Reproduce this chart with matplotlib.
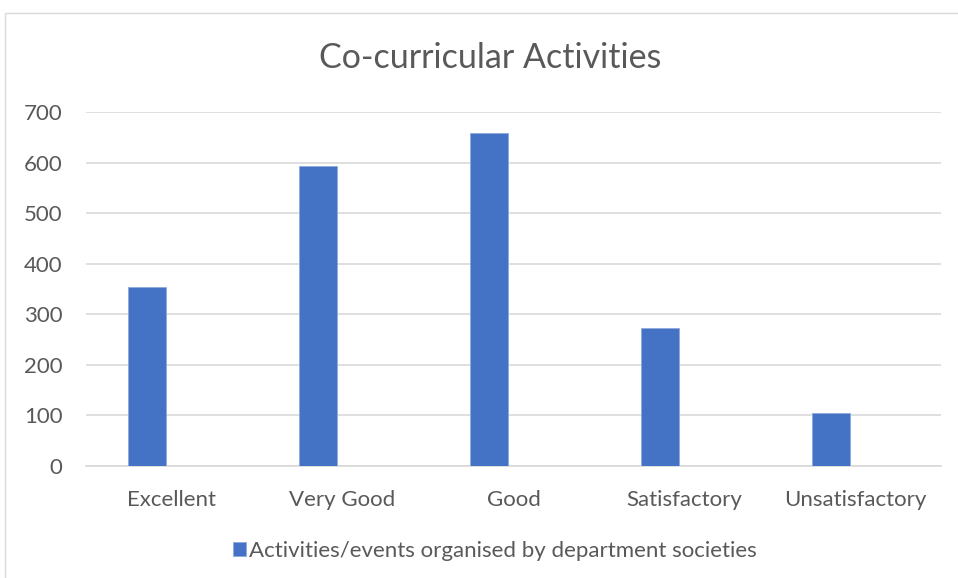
import numpy as np
import matplotlib.pyplot as plt
from matplotlib.patches import Rectangle

# chart data
categories = ["Excellent", "Very Good", "Good", "Satisfactory", "Unsatisfactory"]
values = [354, 593, 659, 273, 105]
series_name = "Activities/events organised by department societies"
yticks = [0, 100, 200, 300, 400, 500, 600, 700]

plt.rcParams['font.family'] = ['Lato', 'DejaVu Sans']
text_col = "#595959"
bar_col = "#4472C4"

fig = plt.figure(figsize=(9.58, 5.78), dpi=100)
fig.patches.append(Rectangle((5 / 958, -0.1), 1.1, 1 - 13 / 578 + 0.1, transform=fig.transFigure,
                             fill=False, edgecolor="#d9d9d9", linewidth=1))

ax = fig.add_axes([86 / 958, 1 - 466 / 578, 855 / 958, 354 / 578])
x = np.arange(len(categories))
ax.bar(x - 0.143, values, width=0.222, color=bar_col, edgecolor="#8faadc", linewidth=0.6,
       label=series_name, zorder=3)

ax.set_xlim(-0.5, len(categories) - 0.5)
ax.set_ylim(0, 700)
ax.set_yticks(yticks)
ax.set_xticks(x)
ax.set_xticklabels(categories)
ax.tick_params(axis="both", length=0, labelsize=16, labelcolor=text_col)
ax.tick_params(axis="x", pad=17)
ax.tick_params(axis="y", pad=17)
ax.grid(axis="y", color="#d9d9d9", linewidth=1.2, zorder=0)
for s in ["top", "right", "left"]:
    ax.spines[s].set_visible(False)
ax.spines["bottom"].set_color("#d9d9d9")
ax.spines["bottom"].set_linewidth(1.2)

fig.text(490 / 958, 1 - 58 / 578, "Co-curricular Activities", ha="center", va="center",
         fontsize=24.5, color=text_col)

leg = fig.legend(loc="center", bbox_to_anchor=(495 / 958, 1 - 551 / 578), frameon=False,
                 fontsize=16, handlelength=0.6, handleheight=0.6, handletextpad=0.15,
                 labelcolor=text_col)

fig.savefig("out.png", dpi=100)
